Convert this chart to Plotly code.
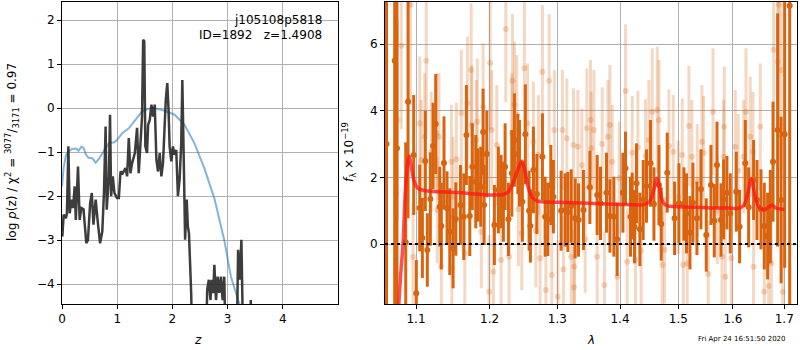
import plotly.graph_objects as go

# ---------------- left panel: p(z) ----------------
pz_z = [0.006, 0.03, 0.07, 0.09, 0.115, 0.14, 0.17, 0.2, 0.23, 0.25, 0.29, 0.32, 0.35, 0.39,
        0.44, 0.47, 0.51, 0.54, 0.57, 0.61, 0.65, 0.69, 0.73, 0.76, 0.79, 0.81, 0.85, 0.87,
        0.89, 0.92, 0.95, 0.996, 1.03, 1.06, 1.1, 1.15, 1.18, 1.21, 1.24, 1.27, 1.32, 1.36,
        1.39, 1.42, 1.45, 1.47, 1.49, 1.51, 1.54, 1.56, 1.59, 1.62, 1.65, 1.68, 1.71, 1.74,
        1.77, 1.8, 1.83, 1.88, 1.907, 1.93, 1.95, 1.98, 2.01, 2.04, 2.07, 2.1, 2.13, 2.16,
        2.18, 2.21, 2.23, 2.26, 2.28, 2.3, 2.34, 2.37, 2.6, 2.63, 2.66, 2.69, 2.71, 2.74,
        2.76, 2.79, 2.82, 2.85, 2.88, 2.91, 2.94, 2.97, 3.16, 3.19, 3.22, 3.25, 3.27, 3.29,
        3.4, 3.42, 3.44]
pz_logp = [-2.92, -2.42, -2.5, -2.39, -0.87, -2.39, -2.08, -2.27, -1.78, -2.54, -1.33, -2.54,
           -2.27, -2.3, -3.07, -3.0, -2.16, -1.93, -2.65, -2.08, -2.61, -3.07, -2.8, -1.93,
           -0.42, -2.31, -1.55, -0.15, -2.0, -1.55, -1.93, -2.04, -2.04, -1.44, -1.48, -1.36,
           -1.55, -0.68, -1.48, -1.25, -1.02, -0.45, -1.48, -0.8, -0.19, 1.55, 1.52, -0.87,
           -1.02, -0.38, -0.27, 0.08, -0.19, 0.08, -1.17, -1.44, -1.02, -1.55, -1.25, 0.19,
           0.57, -0.04, -0.87, -1.21, -0.87, -1.06, -0.95, -2.0, -1.63, -0.8, 0.64, -1.48,
           -2.99, -2.08, -2.69, -2.84, -4.2, -6.0, -6.0, -4.13, -3.9, -4.36, -3.9, -4.2, -3.56,
           -4.36, -3.83, -4.2, -3.83, -4.36, -3.83, -6.0, -6.0, -3.22, -3.9, -2.99, -3.9, -6.0,
           -6.0, -4.36, -6.0]

chi_z = [0.0, 0.03, 0.07, 0.11, 0.18, 0.26, 0.3, 0.35, 0.39, 0.43, 0.48, 0.55, 0.61, 0.67,
         0.73, 0.8, 0.85, 0.94, 1.0, 1.09, 1.21, 1.33, 1.45, 1.55, 1.65, 1.78, 1.86, 2.04,
         2.22, 2.4, 2.58, 2.76, 2.94, 3.06, 3.22, 3.3]
chi_logp = [-1.78, -1.35, -1.08, -0.99, -0.93, -0.92, -0.97, -0.88, -0.9, -1.05, -1.13, -1.14,
            -1.24, -1.15, -1.03, -0.88, -0.79, -0.78, -0.72, -0.57, -0.46, -0.27, -0.08, -0.02,
            0.0, -0.03, -0.06, -0.15, -0.38, -0.8, -1.37, -2.05, -3.0, -3.83, -4.47, -5.0]

# ---------------- right panel: spectrum ----------------
dark_wave = [1.0623, 1.0726, 1.0755, 1.0867, 1.0897, 1.0970, 1.1004, 1.1048, 1.1083, 1.1122,
             1.1148, 1.1188, 1.1224, 1.1259, 1.1313, 1.1334, 1.1370, 1.1411, 1.1448, 1.1493,
             1.1530, 1.1593, 1.1639, 1.1675, 1.1722, 1.1757, 1.1805, 1.1837, 1.1875, 1.1908,
             1.1922, 1.1960, 1.2068, 1.2125, 1.2164, 1.2197, 1.2222, 1.2270, 1.2319, 1.2357,
             1.2407, 1.2431, 1.2474, 1.2518, 1.2573, 1.2593, 1.2638, 1.2689, 1.2773, 1.2814,
             1.2855, 1.2900, 1.2940, 1.3059, 1.3121, 1.3163, 1.3215, 1.3277, 1.3330, 1.3408,
             1.3510, 1.3627, 1.3681, 1.3778, 1.3834, 1.3899, 1.3953, 1.4048, 1.4091, 1.4175,
             1.4203, 1.4242, 1.4276, 1.4333, 1.4389, 1.4445, 1.4514, 1.4573, 1.4659, 1.4699,
             1.4804, 1.4933, 1.5010, 1.5099, 1.5145, 1.5207, 1.5260, 1.5333, 1.5406, 1.5503,
             1.5589, 1.5651, 1.5701, 1.5775, 1.5824, 1.5886, 1.5949, 1.6063, 1.6126, 1.6235,
             1.6299, 1.6395, 1.6461, 1.6539, 1.6604, 1.6669, 1.6723, 1.6776, 1.6868, 1.6937,
             1.7008, 1.7110]
dark_flux = [3.0, 5.5, 2.87, 0.05, 4.27, 2.67, -1.48, 1.08, 0.18, 2.49,
             -0.18, 1.35, 2.94, 3.6, 1.12, 0.54, 2.43, 1.08, 0.37, -0.13,
             0.75, 1.17, 0.82, 3.27, 0.84, 2.32, 1.87, 1.77, 1.72, 3.36,
             1.17, 2.7, 0.57, 1.62, 1.57, 1.27, 2.32, 0.74, 2.12, 3.12,
             2.7, 2.42, 1.27, 3.29, 1.0, 0.54, 2.22, 1.5, 2.62, 0.82,
             0.74, 1.77, 1.42, 1.0, 1.02, 0.96, 1.14, 0.77, 0.72, 1.02,
             1.7, 1.47, 1.22, 1.54, 0.84, 0.82, 0.14, 1.54, 2.27, 0.82,
             1.14, 0.52, 1.82, 0.44, 1.32, 1.74, 2.42, 1.2, 1.77, 0.6,
             2.14, 0.77, 1.22, 1.2, 0.92, 0.34, 1.24, 0.77, 1.64, 0.27,
             1.77, 0.7, 2.37, 0.72, 1.34, 1.54, 0.92, 1.57, 0.52, 2.42,
             1.1, 1.92, 1.32, 1.04, 0.54, 0.24, 0.82, 2.47, 3.42, 1.32,
             3.29, 7.15]
dark_err = [12.0, 9.0, 9.0, 3.0, 3.5, 1.8, 1.0, 1.3, 1.2, 1.5,
            1.1, 1.4, 1.3, 1.5, 1.2, 1.3, 1.4, 1.1, 1.3, 1.2,
            1.1, 1.2, 1.3, 1.5, 1.2, 1.3, 1.4, 1.1, 1.2, 1.3,
            1.2, 1.3, 1.2, 1.3, 1.1, 1.2, 1.3, 1.1, 1.3, 1.4,
            1.2, 1.3, 1.2, 1.5, 1.2, 1.1, 1.3, 1.2, 1.3, 1.2,
            1.1, 1.2, 1.1, 1.2, 1.1, 1.2, 1.1, 1.2, 1.1, 1.2,
            1.1, 1.2, 1.1, 1.2, 1.1, 1.2, 1.1, 1.2, 1.1, 1.2,
            1.0, 1.1, 1.2, 1.1, 1.2, 1.1, 1.3, 1.1, 1.2, 1.1,
            1.2, 1.1, 1.2, 1.1, 1.2, 1.1, 1.2, 1.1, 1.2, 1.1,
            1.2, 1.1, 1.3, 1.1, 1.2, 1.1, 1.2, 1.2, 1.1, 1.3,
            1.2, 1.2, 1.2, 1.2, 1.3, 1.3, 1.4, 1.8, 3.5, 2.5,
            4.0, 9.0]

light_wave = [1.0747, 1.0762, 1.0810, 1.0927, 1.0961, 1.1048, 1.1069, 1.1114, 1.1134, 1.1200,
              1.1267, 1.1280, 1.1302, 1.1334, 1.1469, 1.1476, 1.1493, 1.1538, 1.1605, 1.1653,
              1.1689, 1.1741, 1.1750, 1.1813, 1.1827, 1.1883, 1.1908, 1.2007, 1.2031, 1.1993,
              1.2054, 1.2102, 1.2164, 1.2232, 1.2280, 1.2319, 1.2328, 1.2357, 1.2392, 1.2415,
              1.2465, 1.2504, 1.2551, 1.2638, 1.2674, 1.2713, 1.2738, 1.2773, 1.2825, 1.2875,
              1.2916, 1.2955, 1.3008, 1.3079, 1.3095, 1.3147, 1.3215, 1.3251, 1.3266, 1.3258,
              1.3320, 1.3383, 1.3435, 1.3462, 1.3520, 1.3531, 1.3575, 1.3627, 1.3708, 1.3745,
              1.3801, 1.3834, 1.3872, 1.3953, 1.3986, 1.4091, 1.4119, 1.4203, 1.4259, 1.4299,
              1.4355, 1.4428, 1.4486, 1.4543, 1.4630, 1.4659, 1.4717, 1.4757, 1.4834, 1.4910,
              1.4998, 1.5069, 1.5087, 1.5158, 1.5188, 1.5242, 1.5338, 1.5424, 1.5454, 1.5540,
              1.5627, 1.5707, 1.5794, 1.5824, 1.5837, 1.5855, 1.5968, 1.6044, 1.6101, 1.6202,
              1.6248, 1.6331, 1.6383, 1.6395, 1.6526, 1.6604, 1.6689, 1.6743, 1.6788, 1.6868,
              1.6937, 1.6888, 1.6969]
light_flux = [1.52, 3.72, 5.95, 7.18, -0.38, 3.62, 2.52, 3.22, 5.5, 2.77,
              3.32, 1.02, 3.22, -0.68, 2.47, -0.73, 1.42, 2.54, 3.92, -0.28,
              4.22, 5.22, 3.57, 3.12, 3.67, 0.37, 4.12, 5.43, 3.42, -1.43,
              -0.83, 2.97, -0.48, 6.45, -0.38, 3.32, 4.9, 4.17, 3.87, 1.04,
              0.32, 5.27, 3.62, 3.07, 0.4, 2.67, -0.43, 5.17, -1.38, 4.9,
              -0.93, 3.42, -1.58, 3.42, -0.76, 3.17, -0.38, 2.97, -0.68, -1.3,
              2.92, 2.37, 0.14, 3.47, 3.72, 2.87, 3.42, -0.38, 3.0, -1.23,
              3.22, 3.57, 2.47, -0.98, 1.97, 4.59, -0.53, 2.74, -0.48, 2.9,
              -0.2, 2.64, 3.12, 3.97, 4.02, 3.72, -0.63, -0.18, 2.94, 2.77,
              1.4, 2.67, -0.63, -0.58, 3.54, 2.62, 1.9, 3.07, 2.74, -0.9,
              3.97, 1.0, -0.38, 2.62, 3.52, -0.98, -0.43, 2.92, 2.2, 2.62,
              3.97, 3.22, 2.77, -0.68, 3.52, -1.43, -1.26, -0.58, 5.83, 5.47,
              5.22, 7.18, -1.43]
light_err = [2.5, 3.0, 2.5, 3.0, 1.6, 2.0, 1.8, 1.9, 2.2, 1.8,
             1.8, 1.6, 1.9, 1.6, 1.7, 1.6, 1.8, 1.7, 1.9, 1.7,
             2.0, 2.0, 1.8, 1.8, 1.9, 1.7, 1.9, 2.0, 1.8, 1.7,
             1.6, 1.8, 1.7, 2.2, 1.6, 1.8, 2.0, 1.9, 1.8, 1.7,
             1.7, 2.0, 1.8, 1.8, 1.7, 1.8, 1.6, 2.0, 1.7, 2.0,
             1.6, 1.8, 1.7, 1.8, 1.6, 1.8, 1.6, 1.7, 1.6, 1.7,
             1.7, 1.7, 1.6, 1.8, 1.8, 1.7, 1.8, 1.6, 1.7, 1.6,
             1.7, 1.8, 1.7, 1.6, 1.7, 2.0, 1.6, 1.7, 1.6, 1.7,
             1.6, 1.7, 1.8, 1.9, 1.9, 1.8, 1.6, 1.6, 1.7, 1.7,
             1.7, 1.7, 1.6, 1.6, 1.8, 1.7, 1.7, 1.7, 1.7, 1.6,
             1.9, 1.6, 1.6, 1.7, 1.8, 1.6, 1.6, 1.7, 1.7, 1.7,
             1.9, 1.8, 1.8, 1.6, 1.9, 1.8, 1.9, 2.0, 2.5, 3.0,
             3.0, 4.0, 2.5]

model_wave = [1.0760, 1.0800, 1.0832, 1.0860, 1.0890, 1.0913, 1.0940, 1.0975, 1.1020, 1.1080,
              1.1200, 1.1400, 1.1600, 1.1800, 1.2000, 1.2180, 1.2260, 1.2340, 1.2410, 1.2466,
              1.2510, 1.2560, 1.2620, 1.2700, 1.2850, 1.3000, 1.3400, 1.3800, 1.4200, 1.4400,
              1.4500, 1.4560, 1.4625, 1.4680, 1.4730, 1.4800, 1.5000, 1.5300, 1.5600, 1.5900,
              1.6100, 1.6200, 1.6280, 1.6350, 1.6410, 1.6470, 1.6540, 1.6600, 1.6680, 1.6756,
              1.6830, 1.6920, 1.7000]
model_flux = [-2.5, -1.0, 0.0, 1.5, 2.4, 2.64, 2.3, 1.9, 1.68, 1.62,
              1.58, 1.56, 1.54, 1.50, 1.47, 1.48, 1.55, 1.85, 2.25, 2.49,
              2.2, 1.7, 1.4, 1.29, 1.26, 1.25, 1.23, 1.2, 1.18, 1.18,
              1.28, 1.55, 1.97, 1.6, 1.25, 1.15, 1.12, 1.1, 1.08, 1.08,
              1.07, 1.15, 1.5, 1.95, 1.55, 1.2, 1.06, 1.03, 1.1, 1.17,
              1.08, 1.05, 1.04]

z_ticks = [0, 1, 2, 3, 4]
logp_ticks = [-4, -3, -2, -1, 0, 1, 2]
wave_ticks = [1.1, 1.2, 1.3, 1.4, 1.5, 1.6, 1.7]
flux_ticks = [0, 2, 4, 6]

FONT = "DejaVu Sans"
DARK = "rgb(217,100,15)"
LIGHT = "rgba(217,100,15,0.25)"

fig = go.Figure()

fig.add_trace(go.Scatter(x=chi_z, y=chi_logp, mode="lines",
                         line=dict(color="rgba(31,119,180,0.55)", width=2),
                         xaxis="x", yaxis="y", showlegend=False, hoverinfo="skip"))
fig.add_trace(go.Scatter(x=pz_z, y=pz_logp, mode="lines",
                         line=dict(color="rgba(40,40,40,0.9)", width=2.5),
                         xaxis="x", yaxis="y", showlegend=False, hoverinfo="skip"))

fig.add_trace(go.Scatter(x=light_wave, y=light_flux, mode="markers",
                         marker=dict(color=LIGHT, size=6),
                         error_y=dict(type="data", array=light_err, color=LIGHT,
                                      thickness=3, width=0),
                         xaxis="x2", yaxis="y2", showlegend=False, hoverinfo="skip"))
fig.add_trace(go.Scatter(x=dark_wave, y=dark_flux, mode="markers",
                         marker=dict(color=DARK, size=6),
                         error_y=dict(type="data", array=dark_err, color=DARK,
                                      thickness=3, width=0),
                         xaxis="x2", yaxis="y2", showlegend=False, hoverinfo="skip"))
fig.add_trace(go.Scatter(x=model_wave, y=model_flux, mode="lines",
                         line=dict(color="rgba(255,20,20,0.75)", width=3.5, shape="spline"),
                         xaxis="x2", yaxis="y2", showlegend=False, hoverinfo="skip"))

axis_common = dict(showline=True, linecolor="black", linewidth=1, mirror=True,
                   ticks="outside", ticklen=4, tickcolor="black", automargin=False,
                   showgrid=True, gridcolor="#b0b0b0", gridwidth=1, zeroline=False,
                   tickfont=dict(family=FONT, size=12, color="black"))

fig.update_layout(
    width=800, height=350,
    margin=dict(l=0, r=0, t=0, b=0, pad=0),
    paper_bgcolor="white", plot_bgcolor="white",
    xaxis=dict(domain=[62/800, 338/800], range=[0, 5], tickvals=z_ticks,
               anchor="y", **axis_common),
    yaxis=dict(domain=[1-304/350, 1-2/350], range=[-4.45, 2.41], tickvals=logp_ticks,
               anchor="x", **axis_common),
    xaxis2=dict(domain=[385/800, 797/800], type="log", range=[0.02547, 0.2370],
                tickvals=wave_ticks, ticktext=[str(v) for v in wave_ticks],
                anchor="y2", **axis_common),
    yaxis2=dict(domain=[1-304/350, 1-2/350], range=[-1.8, 7.26], tickvals=flux_ticks,
                anchor="x2", **axis_common),
    shapes=[dict(type="line", xref="x2 domain", x0=0, x1=1, yref="y2", y0=0, y1=0,
                 line=dict(color="black", width=2, dash="dot"))],
)

ann_font = dict(family=FONT, size=12, color="black")
fig.add_annotation(text="j105108p5818", xref="paper", yref="paper", x=324/800, y=1-20/350,
                   xanchor="right", yanchor="middle", showarrow=False, font=ann_font)
fig.add_annotation(text="ID=1892   z=1.4908", xref="paper", yref="paper", x=324/800, y=1-35/350,
                   xanchor="right", yanchor="middle", showarrow=False, font=ann_font)
fig.add_annotation(text="log <i>p</i>(z) / χ<sup>2</sup> = <sup>3077</sup>/<sub>3171</sub> = 0.97",
                   xref="paper", yref="paper", x=12/800, y=1-152/350, textangle=-90,
                   xanchor="center", yanchor="middle", showarrow=False, font=ann_font)
fig.add_annotation(text="<i>f</i><sub>λ</sub> × 10<sup>−19</sup>",
                   xref="paper", yref="paper", x=349/800, y=1-152/350, textangle=-90,
                   xanchor="center", yanchor="middle", showarrow=False, font=ann_font)
fig.add_annotation(text="<i>z</i>", xref="paper", yref="paper", x=198/800, y=1-340/350,
                   xanchor="center", yanchor="middle", showarrow=False, font=ann_font)
fig.add_annotation(text="<i>λ</i>", xref="paper", yref="paper", x=591/800, y=1-340/350,
                   xanchor="center", yanchor="middle", showarrow=False, font=ann_font)
fig.add_annotation(text="Fri Apr 24 16:51:50 2020", xref="paper", yref="paper",
                   x=788/800, y=1-339/350, xanchor="right", yanchor="middle",
                   showarrow=False, font=dict(family=FONT, size=7, color="black"))

fig.write_html("out.html", config={"displayModeBar": False},
               post_script="document.body.style.margin='0';document.body.style.overflow='hidden';")
